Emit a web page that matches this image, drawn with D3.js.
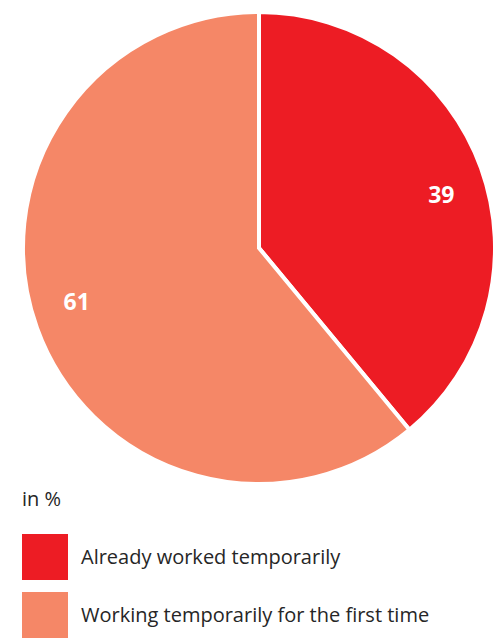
<!DOCTYPE html>
<html>
<head>
<meta charset="utf-8">
<script src="https://cdn.jsdelivr.net/npm/d3@7"></script>
<style>
  body { margin: 0; background: #fff; }
  svg text { font-family: "Open Sans", "Noto Sans", sans-serif; }
</style>
</head>
<body>
<div id="chart"></div>
<script>
// data
const categories = ["Already worked temporarily", "Working temporarily for the first time"];
const values = [39, 61];
const colors = ["#ed1c24", "#f58767"];
const unitLabel = "in %";

const width = 493, height = 639;
const cx = 259, cy = 248, radius = 236;

let svg = d3.select("#chart")
    .append("svg")
    .attr("width", width)
    .attr("height", height);

let pie = d3.pie().sort(null).value(d => d);
let arc = d3.arc().innerRadius(0).outerRadius(radius);

let g = svg.append("g")
    .attr("transform", `translate(${cx}, ${cy})`);

let slices = pie(values);

// slices
g.selectAll("path")
    .data(slices)
    .enter()
    .append("path")
    .attr("d", arc)
    .attr("fill", (d, i) => colors[i])
    .attr("stroke", "#fff")
    .attr("stroke-width", 4)
    .attr("stroke-linejoin", "miter");

// value labels, a bit past mid-angle like the original
g.selectAll("text.val")
    .data(slices)
    .enter()
    .append("text")
    .attr("class", "val")
    .attr("transform", d => {
        let a = (d.startAngle + d.endAngle) / 2 + 0.06;
        return `translate(${Math.sin(a) * 190}, ${-Math.cos(a) * 190})`;
    })
    .attr("text-anchor", "middle")
    .attr("dy", "0.36em")
    .attr("fill", "#fff")
    .style("font-size", "23px")
    .style("font-weight", "bold")
    .text(d => d.data);

// unit
svg.append("text")
    .attr("x", 22)
    .attr("y", 506)
    .attr("fill", "#262626")
    .style("font-size", "20px")
    .text(unitLabel);

// legend
let legend = svg.selectAll("g.legend")
    .data(categories)
    .enter()
    .append("g")
    .attr("class", "legend")
    .attr("transform", (d, i) => `translate(22, ${534 + i * 58})`);

legend.append("rect")
    .attr("width", 46)
    .attr("height", 46)
    .attr("fill", (d, i) => colors[i]);

legend.append("text")
    .attr("x", 59)
    .attr("y", 30)
    .attr("fill", "#262626")
    .style("font-size", "20px")
    .text(d => d);
</script>
</body>
</html>
